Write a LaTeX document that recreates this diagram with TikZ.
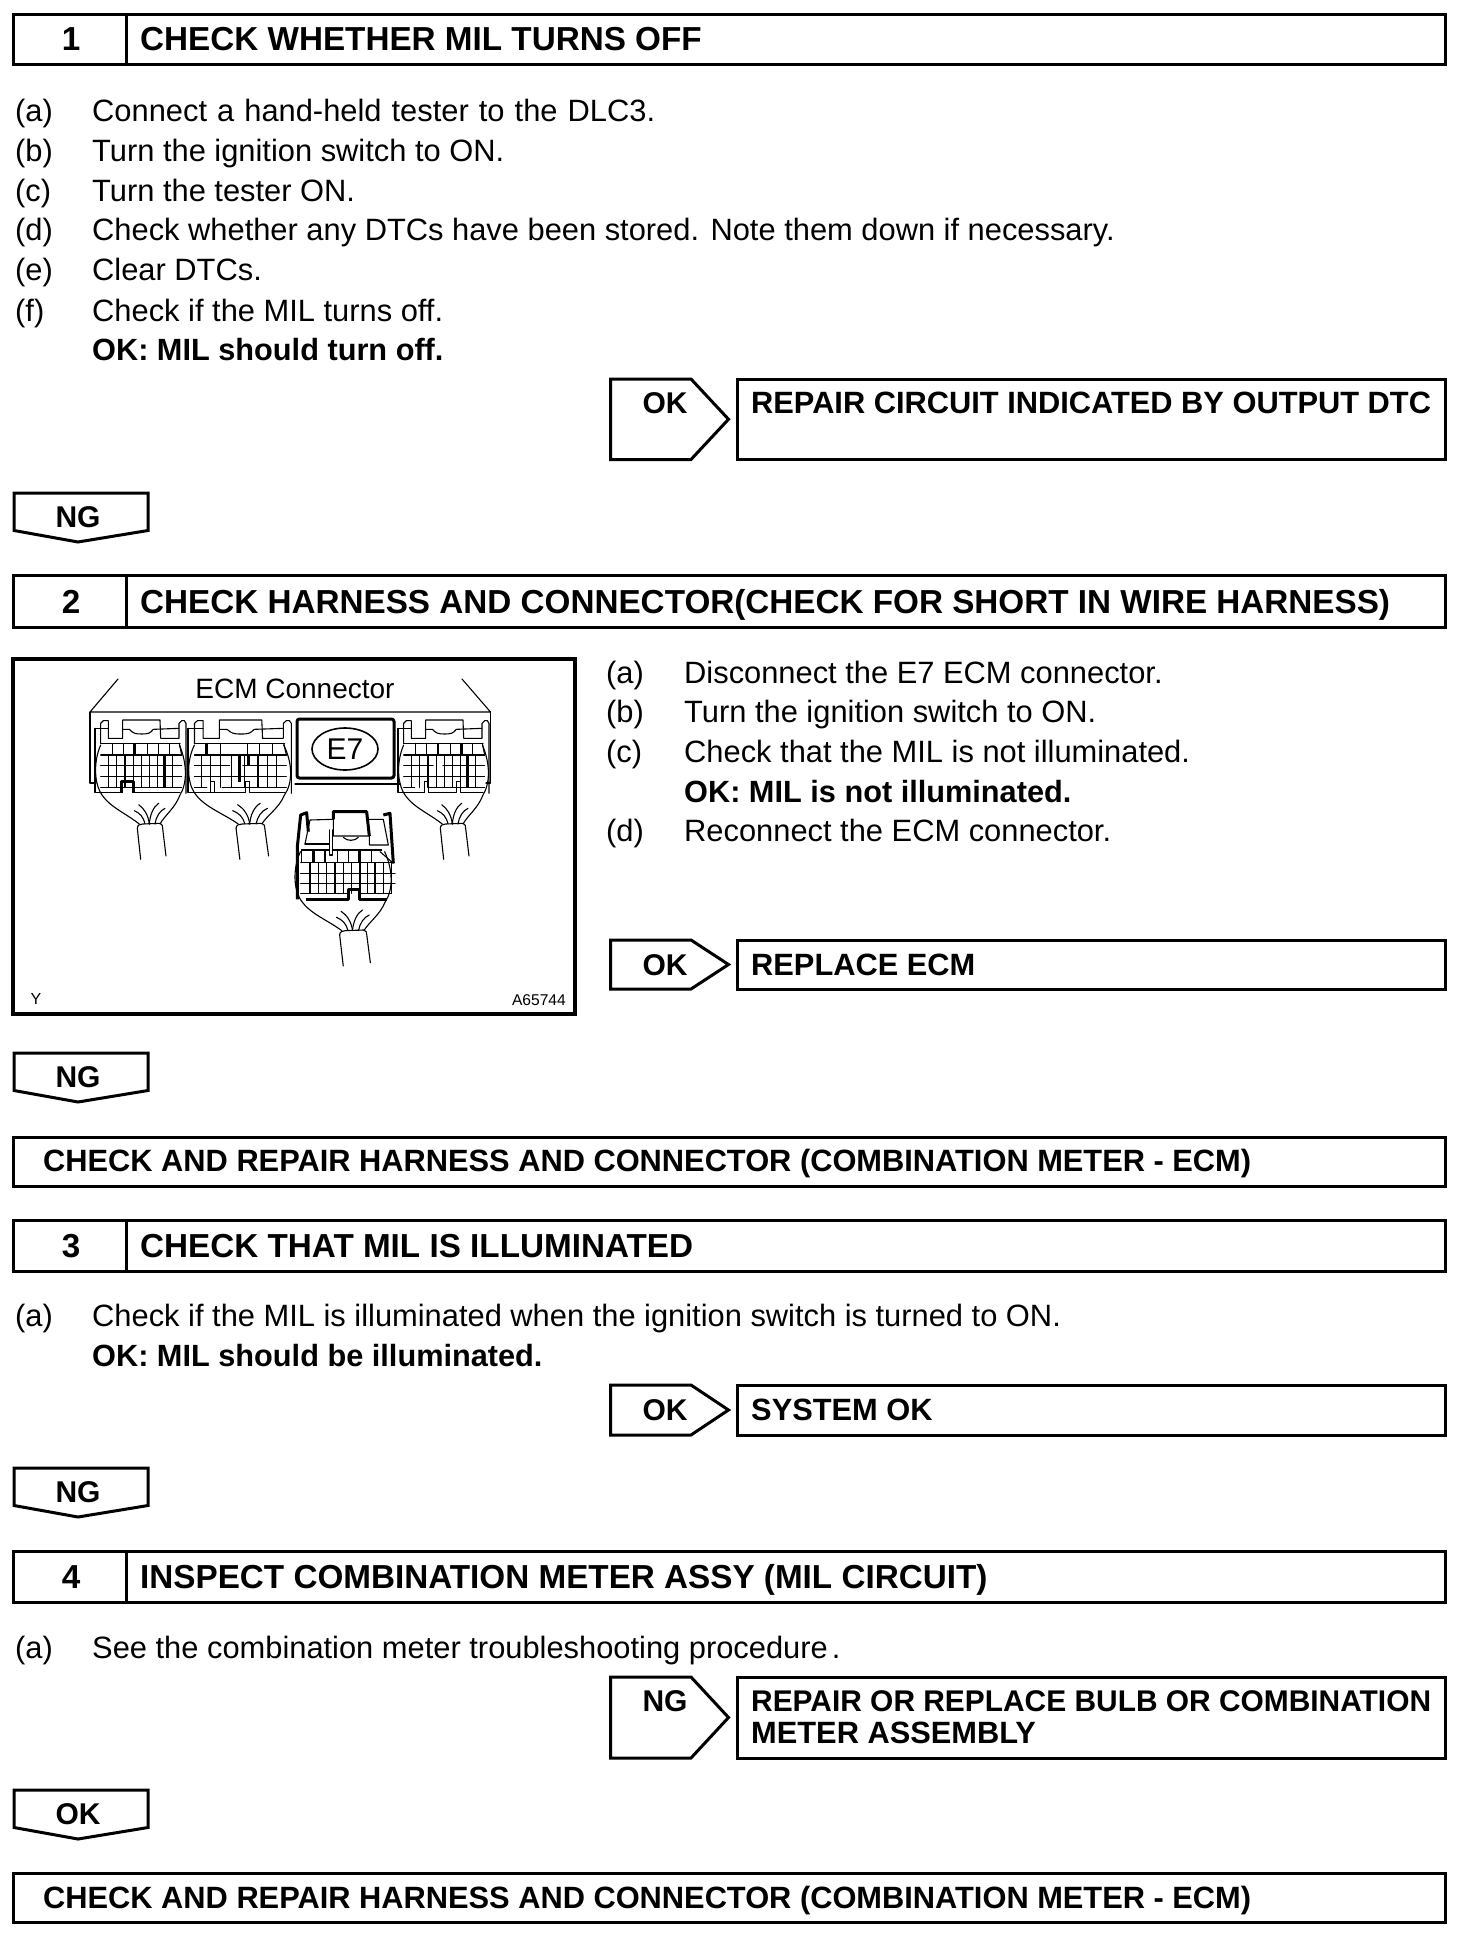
\documentclass[tikz,border=0pt]{standalone}
\usepackage{fontspec}
\setmainfont{Liberation Sans}
\newcommand{\bodyf}{\fontsize{30.85}{30.85}\selectfont}
\newcommand{\headf}{\fontsize{33.25}{33.25}\bfseries\selectfont}
\tikzset{
  box/.style={draw=black,line width=3pt,fill=white},
  body/.style={anchor=base west,inner sep=0pt,font=\bodyf},
  boldbody/.style={anchor=base west,inner sep=0pt,font=\fontsize{30.7}{30.7}\bfseries\selectfont},
  head/.style={anchor=base west,inner sep=0pt,font=\headf},
  headc/.style={anchor=base,inner sep=0pt,font=\headf},
  res/.style={anchor=base west,inner sep=0pt,font=\fontsize{30.8}{30.8}\bfseries\selectfont},
  tag/.style={anchor=base,inner sep=0pt,font=\fontsize{30}{30}\bfseries\selectfont},
  art/.style={line width=1.1pt,line join=round,line cap=round},
  artthick/.style={line width=3pt,line join=round},
}
% header bar: id, top, bottom, number, title
\newcommand{\hdr}[5]{%
  \draw[box] (13.5,#2) rectangle (1445,#3);
  \draw[box] (126,#2) -- (126,#3);
  \node[headc] (num#1) at (71,#3-14) {#4};
  \node[head] (title#1) at (140,#3-14) {#5};
}
% item: id, x of label, x of text, baseline, label, text
\newcommand{\itm}[6]{%
  \node[body] (lab#1) at (#2,#4) {#5};
  \node[body] (txt#1) at (#3,#4) {#6};
}
% right arrow tag: id, top, bottom, label, label baseline
\newcommand{\rtag}[5]{%
  \draw[box] (610.5,#2) -- (691,#2) -- (728.5,{(#2+#3)/2}) -- (691,#3) -- (610.5,#3) -- cycle;
  \node[tag] (tag#1) at (665,#5) {#4};
  \draw[box] (737,#2) rectangle (1445,#3);
}
% down tag: id, top, label
\newcommand{\dtag}[3]{%
  \draw[box] (14,#2) -- (148,#2) -- (148,#2+37.5) -- (78,#2+49) -- (14,#2+37.5) -- cycle;
  \node[tag] (down#1) at (78,#2+34) {#3};
}
% strands, boot and cable of a connector (coordinates of a 3x crop)
\newcommand{\bootcable}{%
  \draw[art] (62,135) .. controls (42,180) and (42,240) .. (60,275) .. controls (85,320) and (130,335) .. (178,372);
  \draw[art] (298,135) .. controls (322,190) and (322,250) .. (300,285) .. controls (285,325) and (255,345) .. (240,372);
  \draw[art] (172,385) .. controls (172,375) and (180,372) .. (188,372) -- (240,370) .. controls (247,372) and (248,378) .. (248,385) -- (258,468);
  \draw[art] (172,385) -- (182,478);
  \draw[art] (163,332) .. controls (180,340) and (190,350) .. (195,372);
  \draw[art] (176,314) .. controls (192,325) and (205,345) .. (208,372);
  \draw[art] (236,310) .. controls (220,320) and (210,345) .. (208,372);
  \draw[art] (255,325) .. controls (240,332) and (228,350) .. (225,372);
}
% head of an upper connector
\newcommand{\uppertop}{%
  \draw[art] (62,130) -- (62,70) -- (70,62) -- (85,62) -- (85,115) -- (128,115) -- (128,60) -- (240,60) -- (242,115) -- (297,115) -- (297,70) -- (305,62) -- (313,62) -- (318,70) -- (318,280);
  \draw[art] (45,85) -- (85,85);
  \draw[art] (128,88) -- (148,88) .. controls (160,100) and (165,102) .. (185,102) .. controls (205,102) and (210,100) .. (220,88) -- (297,85);
  \draw[art] (45,85) -- (45,278) -- (125,278);
  \draw[art] (62,130) -- (300,130);
  \draw[art] (298,130) -- (305,165);
}
\newcommand{\vlines}[3]{\foreach \vx in {#1}{\draw[art] (\vx,#2) -- (\vx,#3);}}
\begin{document}
\begin{tikzpicture}[x=1pt,y=-1pt]
\useasboundingbox (0,0) rectangle (1472,1948);
\fill[white] (0,0) rectangle (1472,1948);

% ---- step 1
\hdr{a}{15}{65}{1}{CHECK WHETHER MIL TURNS OFF}
\itm{aa}{15}{92}{122}{(a)}{\makebox[563pt][s]{Connect a hand-held tester to the DLC3.}}
\itm{ab}{15}{92}{161}{(b)}{Turn the ignition switch to ON.}
\itm{ac}{15}{92}{201}{(c)}{Turn the tester ON.}
\itm{ad}{15}{92}{240}{(d)}{Check whether any DTCs have been stored. Note them down if necessary.}
\itm{ae}{15}{92}{280}{(e)}{Clear DTCs.}
\itm{af}{15}{92}{321}{(f)}{Check if the MIL turns off.}
\node[boldbody] (oka) at (92,360) {OK: MIL should turn off.};
\rtag{a}{379}{459.5}{OK}{413}
\node[res] (resa) at (751,413) {REPAIR CIRCUIT INDICATED BY OUTPUT DTC};
\dtag{a}{493}{NG}

% ---- step 2
\hdr{b}{575}{627}{2}{CHECK HARNESS AND CONNECTOR(CHECK FOR SHORT IN WIRE HARNESS)}
\draw[line width=3.5pt] (13,659) rectangle (575,1014);
\node[inner sep=0pt,anchor=base,font=\fontsize{28}{28}\selectfont] (ecm) at (295,698) {ECM Connector};
\node[inner sep=0pt,anchor=base,font=\fontsize{16}{16}\selectfont] (yy) at (36,1004) {Y};
\node[inner sep=0pt,anchor=base east,font=\fontsize{15.6}{15.6}\selectfont] (code) at (566,1005) {A65744};
% housing
\draw[art] (118,679) -- (90,712) -- (490.5,712) -- (462,679);
\draw[art] (90,712) -- (90,783) -- (96,783);
\draw[art] (490.5,712) -- (490.5,783) -- (486,783);
\draw[art] (295,784) -- (400,784);
\draw[line width=3pt,rounded corners=2.5pt] (297,719) rectangle (394,778);
\draw[line width=1.6pt] (345,749) ellipse [x radius=33,y radius=21];
\node[inner sep=0pt,anchor=center,font=\fontsize{30}{30}\selectfont] (e7) at (345,749) {E7};
% connector 1
\begin{scope}[shift={(80,700)},x=0.3333pt,y=-0.3333pt]
  \uppertop\bootcable
  \draw[art] (62,165) -- (305,165) (62,197) -- (305,197) (62,230) -- (305,230) (62,262) -- (305,262);
  \vlines{97,130,203,235,268}{130}{165}
  \vlines{85,110,135,160,185,208,232,278}{165}{262}
  \draw[artthick] (165,130) -- (165,165) (255,165) -- (255,262) (125,278) -- (125,245) -- (160,245) -- (160,278);
  \draw[art] (160,278) -- (300,278);
\end{scope}
% connector 2
\begin{scope}[shift={(171,700)},x=0.3333pt,y=-0.3333pt,xscale=1.135]
  \uppertop\bootcable
  \draw[art] (62,165) -- (305,165) (62,197) -- (155,197) (190,197) -- (305,197) (62,230) -- (305,230) (62,262) -- (95,262) (135,262) -- (305,262);
  \vlines{97,130,203,235,268}{130}{165}
  \vlines{80,105,132,160,195,230,255,278}{165}{262}
  \draw[art] (105,278) -- (105,245) -- (115,245) -- (115,278);
  \draw[art] (115,278) -- (198,278) -- (198,245) -- (208,245) -- (208,278) -- (300,278);
  \draw[artthick] (180,165) -- (180,245) (205,165) -- (205,197) (95,130) -- (95,165);
\end{scope}
% connector 3
\begin{scope}[shift={(383,700)},x=0.3333pt,y=-0.3333pt]
  \uppertop\bootcable
  \draw[art] (62,165) -- (305,165) (62,197) -- (150,197) (180,197) -- (305,197) (62,230) -- (305,230) (62,262) -- (95,262) (135,262) -- (305,262);
  \vlines{97,130,165,203,268}{130}{165}
  \vlines{85,110,135,160,185,208,232,278}{165}{262}
  \draw[art] (125,278) -- (125,245) -- (137,245) -- (137,278);
  \draw[art] (137,278) -- (220,278) -- (220,245) -- (232,245) -- (232,278) -- (300,278);
  \draw[artthick] (235,130) -- (235,165) (255,165) -- (255,262);
\end{scope}
% connector 4
\begin{scope}[shift={(280,700)},x=0.3333pt,y=-0.3333pt]
  \draw[artthick] (52,598) -- (52,440) -- (62,345) -- (80,338) -- (85,395);
  \draw[artthick] (310,345) -- (330,340) -- (340,490);
  \draw[artthick] (160,358) -- (160,335) -- (260,335) -- (268,408);
  \draw[art] (75,432) -- (90,360) -- (160,358) -- (160,408) -- (268,408) -- (268,435) -- (325,435) -- (310,358) -- (262,358);
  \draw[art] (75,432) -- (148,432);
  \draw[art] (190,412) .. controls (200,424) and (225,424) .. (235,412);
  \draw[art] (148,390) -- (148,465) -- (158,465) -- (158,390);
  \draw[art] (65,488) -- (65,450) -- (148,450) (158,450) -- (305,450);
  \draw[art] (62,488) -- (335,488) (62,520) -- (345,520) (62,550) -- (345,550) (62,580) -- (205,580) (238,580) -- (335,580);
  \vlines{135,172,205,275}{450}{488}
  \vlines{90,115,140,165,190,215,240,262,285,310,335}{488}{580}
  \draw[artthick] (100,450) -- (100,488) (240,450) -- (240,488);
  \draw[artthick] (78,598) -- (205,598) -- (205,568) -- (238,568) -- (238,598) -- (322,598);
  \draw[art] (300,455) -- (340,490);
  \begin{scope}[shift={(-5,320)},xscale=1.07]
    \bootcable
  \end{scope}
\end{scope}
\itm{ba}{606}{684}{683}{(a)}{Disconnect the E7 ECM connector.}
\itm{bb}{606}{684}{722}{(b)}{Turn the ignition switch to ON.}
\itm{bc}{606}{684}{762}{(c)}{Check that the MIL is not illuminated.}
\node[boldbody] (okb) at (684,802) {OK: MIL is not illuminated.};
\itm{bd}{606}{684}{841}{(d)}{Reconnect the ECM connector.}
\rtag{b}{940}{989}{OK}{975}
\node[res] (resb) at (751,975) {REPLACE ECM};
\dtag{b}{1053}{NG}
\draw[box] (13.5,1137) rectangle (1445,1186);
\node[res] (fullb) at (43,1171) {CHECK AND REPAIR HARNESS AND CONNECTOR (COMBINATION METER - ECM)};

% ---- step 3
\hdr{c}{1220}{1271}{3}{CHECK THAT MIL IS ILLUMINATED}
\itm{ca}{15}{92}{1326}{(a)}{Check if the MIL is illuminated when the ignition switch is turned to ON.}
\node[boldbody] (okc) at (92,1366) {OK: MIL should be illuminated.};
\rtag{c}{1385}{1435}{OK}{1420}
\node[res] (resc) at (751,1420) {SYSTEM OK};
\dtag{c}{1468}{NG}

% ---- step 4
\hdr{d}{1551}{1602}{4}{INSPECT COMBINATION METER ASSY (MIL CIRCUIT)}
\itm{da}{15}{92}{1658}{(a)}{See the combination meter troubleshooting procedure\hspace{4pt}.}
\rtag{d}{1677}{1758}{NG}{1711}
\node[anchor=base west,inner sep=0pt,font=\fontsize{29.9}{29.9}\bfseries\selectfont] (resd) at (751,1711) {REPAIR OR REPLACE BULB OR COMBINATION};
\node[res] (rese) at (751,1743) {METER ASSEMBLY};
\dtag{d}{1790}{OK}
\draw[box] (13.5,1873) rectangle (1445,1922);
\node[res] (fulld) at (43,1908) {CHECK AND REPAIR HARNESS AND CONNECTOR (COMBINATION METER - ECM)};
\end{tikzpicture}
\end{document}
